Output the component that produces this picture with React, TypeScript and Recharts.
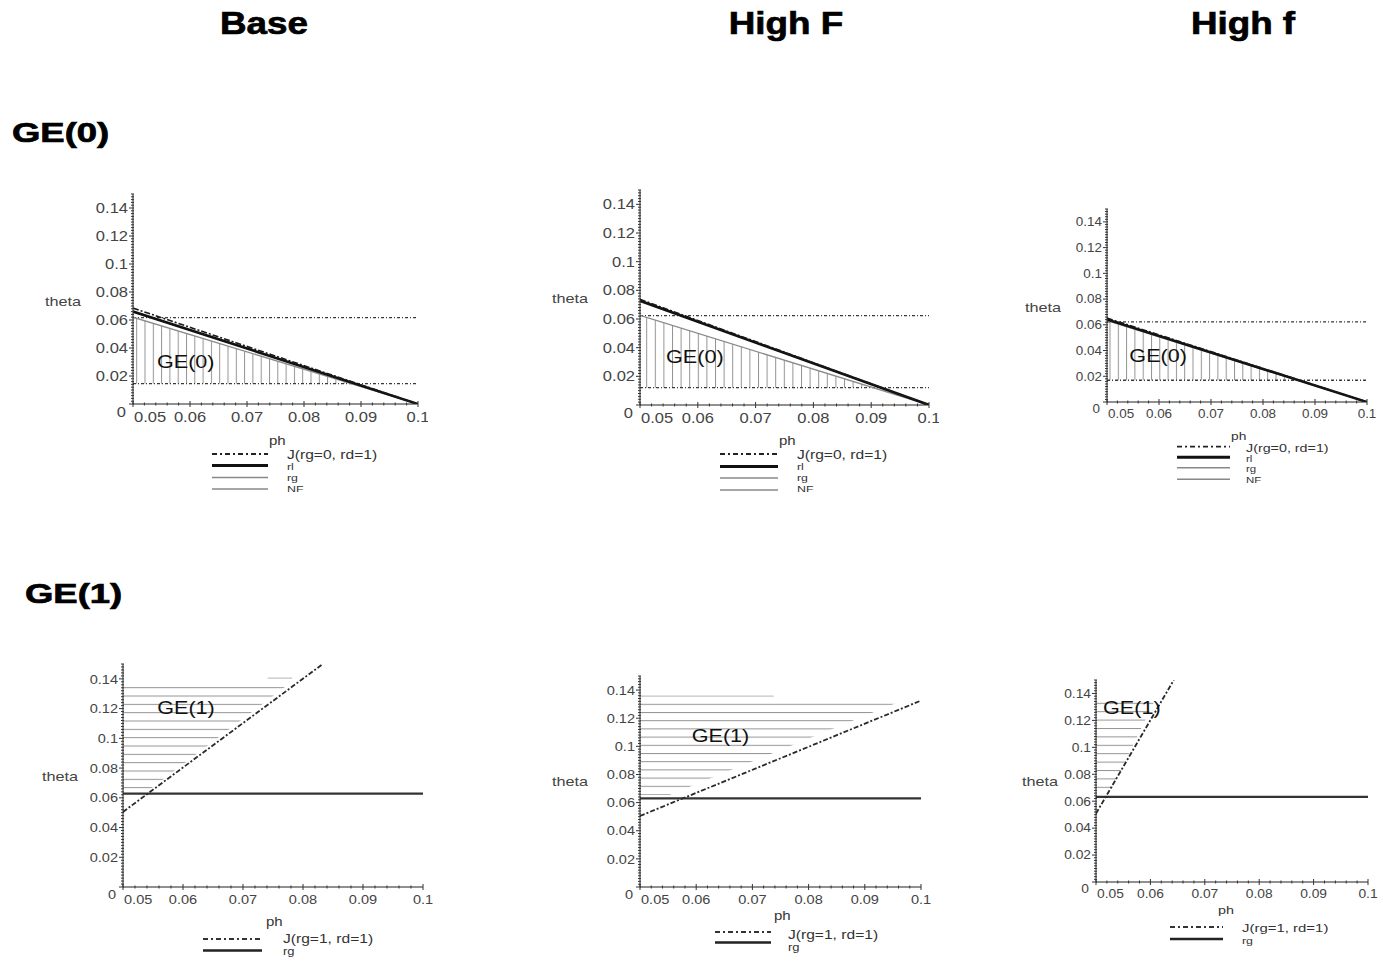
import React from "react";
import {
  ComposedChart,
  Line,
  Area,
  XAxis,
  YAxis,
  ReferenceDot,
  Legend,
} from "recharts";

const FONT = "'Liberation Sans', Arial, Helvetica, sans-serif";

// ---------------------------------------------------------------------------
// Tick labels and titles
// ---------------------------------------------------------------------------

const xMajor = [0.05, 0.06, 0.07, 0.08, 0.09, 0.1];
const yMajor = [0, 0.02, 0.04, 0.06, 0.08, 0.1, 0.12, 0.14];
const xTicks = Array.from({ length: 26 }, (_, i) => (50 + 2 * i) / 1000);
const yTicks = Array.from({ length: 76 }, (_, i) => (2 * i) / 1000);

const colTitles = ["Base", "High F", "High f"];
const rowTitles = ["GE(0)", "GE(1)"];
const ge0Legend = ["J(rg=0, rd=1)", "rl", "rg", "NF"];
const ge1Legend = ["J(rg=1, rd=1)", "rg"];

type Pt = { x: number; y: number };
type RangePt = { x: number; y: [number, number] };

// ---------------------------------------------------------------------------
// GE(0) row
// ---------------------------------------------------------------------------

const base0J: Pt[] = [{ x: 0.05, y: 0.0685 }, { x: 0.1, y: 0 }];
const base0Rl: Pt[] = [{ x: 0.05, y: 0.066 }, { x: 0.1, y: 0 }];
const base0Rg: Pt[] = [{ x: 0.05, y: 0.062 }, { x: 0.1, y: 0 }];
const base0Top: Pt[] = [{ x: 0.05, y: 0.0617 }, { x: 0.1, y: 0.0617 }];
const base0Bot: Pt[] = [{ x: 0.05, y: 0.0145 }, { x: 0.1, y: 0.0145 }];
const base0Hatch: RangePt[] = [
  { x: 0.05, y: [0.0145, 0.062] },
  { x: 0.0883, y: [0.0145, 0.0145] },
];

const highF0J: Pt[] = [{ x: 0.05, y: 0.0737 }, { x: 0.1, y: 0 }];
const highF0Rl: Pt[] = [{ x: 0.05, y: 0.0727 }, { x: 0.1, y: 0 }];
const highF0Rg: Pt[] = [{ x: 0.05, y: 0.0625 }, { x: 0.1, y: 0 }];
const highF0Top: Pt[] = [{ x: 0.05, y: 0.0623 }, { x: 0.1, y: 0.0623 }];
const highF0Bot: Pt[] = [{ x: 0.05, y: 0.0121 }, { x: 0.1, y: 0.0121 }];
const highF0Hatch: RangePt[] = [
  { x: 0.05, y: [0.0121, 0.0625] },
  { x: 0.0903, y: [0.0121, 0.0121] },
];

const highf0J: Pt[] = [{ x: 0.05, y: 0.0652 }, { x: 0.1, y: 0 }];
const highf0Rl: Pt[] = [{ x: 0.05, y: 0.0642 }, { x: 0.1, y: 0 }];
const highf0Rg: Pt[] = [{ x: 0.05, y: 0.0632 }, { x: 0.1, y: 0 }];
const highf0Top: Pt[] = [{ x: 0.05, y: 0.0622 }, { x: 0.1, y: 0.0622 }];
const highf0Bot: Pt[] = [{ x: 0.05, y: 0.0169 }, { x: 0.1, y: 0.0169 }];
const highf0Hatch: RangePt[] = [
  { x: 0.05, y: [0.0169, 0.0632] },
  { x: 0.0866, y: [0.0169, 0.0169] },
];

// ---------------------------------------------------------------------------
// GE(1) row
// ---------------------------------------------------------------------------

const base1J: Pt[] = [{ x: 0.05, y: 0.0505 }, { x: 0.0833, y: 0.15 }];
const base1Rg: Pt[] = [{ x: 0.05, y: 0.0628 }, { x: 0.1, y: 0.0628 }];
const base1Stray: Pt[] = [{ x: 0.0741, y: 0.1405 }, { x: 0.0782, y: 0.1405 }];
const base1Hatch: RangePt[] = [
  { x: 0.05, y: [0.0645, 0.1355] },
  { x: 0.0541, y: [0.0645, 0.1355] },
  { x: 0.0773, y: [0.1355, 0.1355] },
];

const highF1J: Pt[] = [{ x: 0.05, y: 0.0505 }, { x: 0.1, y: 0.1325 }];
const highF1Rg: Pt[] = [{ x: 0.05, y: 0.063 }, { x: 0.1, y: 0.063 }];
const highF1Stray: Pt[] = [{ x: 0.05, y: 0.1357 }, { x: 0.0738, y: 0.1357 }];
const highF1Hatch: RangePt[] = [
  { x: 0.05, y: [0.0655, 0.131] },
  { x: 0.0553, y: [0.0655, 0.131] },
  { x: 0.0957, y: [0.131, 0.131] },
];

const highf1J: Pt[] = [{ x: 0.05, y: 0.0508 }, { x: 0.0643, y: 0.15 }];
const highf1Rg: Pt[] = [{ x: 0.05, y: 0.0632 }, { x: 0.1, y: 0.0632 }];
const highf1Hatch: RangePt[] = [
  { x: 0.05, y: [0.0655, 0.134] },
  { x: 0.0525, y: [0.0655, 0.134] },
  { x: 0.0607, y: [0.134, 0.134] },
];

// ---------------------------------------------------------------------------
// Styles
// ---------------------------------------------------------------------------

interface LineStyle {
  stroke: string;
  width: number;
  dash?: string;
}

const J_STYLE: LineStyle = { stroke: "#1a1a1a", width: 1.6, dash: "6 2 2 2" };
const RL_STYLE: LineStyle = { stroke: "#111", width: 2.6 };
const GRAY_STYLE: LineStyle = { stroke: "#8a8a8a", width: 1.3 };
const DOT_STYLE: LineStyle = { stroke: "#3a3a3a", width: 1.3, dash: "3 2 1 2" };
const RG1_STYLE: LineStyle = { stroke: "#333", width: 2.4 };
const J1_STYLE: LineStyle = { stroke: "#2a2a2a", width: 1.8, dash: "5 2 2 2" };
const STRAY_STYLE: LineStyle = { stroke: "#b5b5b5", width: 1 };

const LEG0_STYLES: LineStyle[] = [
  { stroke: "#222", width: 1.8, dash: "5 3 2 3" },
  { stroke: "#111", width: 3 },
  { stroke: "#888", width: 1.5 },
  { stroke: "#888", width: 1.5 },
];
const LEG1_STYLES: LineStyle[] = [
  { stroke: "#333", width: 1.8, dash: "5 3 2 3" },
  { stroke: "#222", width: 2.6 },
];

// ---------------------------------------------------------------------------
// Panel definitions
// ---------------------------------------------------------------------------

interface LegendDef {
  x0: number;
  x1: number;
  rows: number[];
  ph: [number, number];
  textX: number;
  textYs: number[];
  fs: number;
  subFs: number;
  labels: string[];
  styles: LineStyle[];
}

interface PanelDef {
  id: string;
  plot: { l: number; t: number; w: number; h: number };
  tickFs: number;
  tickSx: number;
  series: { data: Pt[]; style: LineStyle }[];
  hatch: RangePt[];
  hatchDir: "v" | "h";
  hatchGap: number;
  hatchPhase: number;
  label: string;
  labelAt: Pt;
  theta: [number, number];
  legend: LegendDef;
}

const panels: PanelDef[] = [
  {
    id: "p1",
    plot: { l: 133, t: 194, w: 285, h: 210 },
    tickFs: 14,
    tickSx: 1.18,
    series: [
      { data: base0Top, style: DOT_STYLE },
      { data: base0Bot, style: DOT_STYLE },
      { data: base0Rg, style: GRAY_STYLE },
      { data: base0Rl, style: RL_STYLE },
      { data: base0J, style: J_STYLE },
    ],
    hatch: base0Hatch,
    hatchDir: "v",
    hatchGap: 8.3,
    hatchPhase: 136.7,
    label: "GE(0)",
    labelAt: { x: 0.0542, y: 0.0304 },
    theta: [63, 306],
    legend: {
      x0: 212, x1: 268, rows: [454, 465.5, 477.5, 489], ph: [269, 445],
      textX: 287, textYs: [459, 470, 481, 492], fs: 12, subFs: 9.5,
      labels: ge0Legend, styles: LEG0_STYLES,
    },
  },
  {
    id: "p2",
    plot: { l: 640, t: 190, w: 289, h: 215 },
    tickFs: 14,
    tickSx: 1.18,
    series: [
      { data: highF0Top, style: DOT_STYLE },
      { data: highF0Bot, style: DOT_STYLE },
      { data: highF0Rg, style: GRAY_STYLE },
      { data: highF0Rl, style: RL_STYLE },
      { data: highF0J, style: J_STYLE },
    ],
    hatch: highF0Hatch,
    hatchDir: "v",
    hatchGap: 8.6,
    hatchPhase: 646.7,
    label: "GE(0)",
    labelAt: { x: 0.0545, y: 0.0338 },
    theta: [570, 303],
    legend: {
      x0: 720, x1: 778, rows: [454, 466.5, 478, 490], ph: [779, 445],
      textX: 797, textYs: [459, 470, 481, 492], fs: 12, subFs: 9.5,
      labels: ge0Legend, styles: LEG0_STYLES,
    },
  },
  {
    id: "p3",
    plot: { l: 1107, t: 209, w: 260, h: 193 },
    tickFs: 12,
    tickSx: 1.12,
    series: [
      { data: highf0Top, style: DOT_STYLE },
      { data: highf0Bot, style: DOT_STYLE },
      { data: highf0Rg, style: GRAY_STYLE },
      { data: highf0Rl, style: RL_STYLE },
      { data: highf0J, style: J_STYLE },
    ],
    hatch: highf0Hatch,
    hatchDir: "v",
    hatchGap: 8.3,
    hatchPhase: 1110,
    label: "GE(0)",
    labelAt: { x: 0.0543, y: 0.0365 },
    theta: [1043, 312],
    legend: {
      x0: 1177, x1: 1230, rows: [446.7, 457.3, 467.7, 479.3], ph: [1231, 440],
      textX: 1246, textYs: [452, 462, 472, 482.5], fs: 11, subFs: 8.8,
      labels: ge0Legend, styles: LEG0_STYLES,
    },
  },
  {
    id: "p4",
    plot: { l: 123, t: 664, w: 300, h: 223 },
    tickFs: 13,
    tickSx: 1.12,
    series: [
      { data: base1Stray, style: STRAY_STYLE },
      { data: base1Rg, style: RG1_STYLE },
      { data: base1J, style: J1_STYLE },
    ],
    hatch: base1Hatch,
    hatchDir: "h",
    hatchGap: 8.33,
    hatchPhase: 687.7,
    label: "GE(1)",
    labelAt: { x: 0.0557, y: 0.1205 },
    theta: [60, 781],
    legend: {
      x0: 203, x1: 262, rows: [939, 950.5], ph: [266, 926],
      textX: 283, textYs: [942.5, 954.5], fs: 12, subFs: 10,
      labels: ge1Legend, styles: LEG1_STYLES,
    },
  },
  {
    id: "p5",
    plot: { l: 640, t: 676, w: 281, h: 211 },
    tickFs: 13,
    tickSx: 1.12,
    series: [
      { data: highF1Stray, style: STRAY_STYLE },
      { data: highF1Rg, style: RG1_STYLE },
      { data: highF1J, style: J1_STYLE },
    ],
    hatch: highF1Hatch,
    hatchDir: "h",
    hatchGap: 8.2,
    hatchPhase: 704.3,
    label: "GE(1)",
    labelAt: { x: 0.0592, y: 0.1077 },
    theta: [570, 786],
    legend: {
      x0: 715, x1: 771, rows: [932, 942.5], ph: [774, 920],
      textX: 788, textYs: [938.5, 950.5], fs: 12, subFs: 10,
      labels: ge1Legend, styles: LEG1_STYLES,
    },
  },
  {
    id: "p6",
    plot: { l: 1096, t: 680, w: 272, h: 202 },
    tickFs: 12,
    tickSx: 1.15,
    series: [
      { data: highf1Rg, style: RG1_STYLE },
      { data: highf1J, style: J1_STYLE },
    ],
    hatch: highf1Hatch,
    hatchDir: "h",
    hatchGap: 8.4,
    hatchPhase: 711.7,
    label: "GE(1)",
    labelAt: { x: 0.0513, y: 0.1295 },
    theta: [1040, 786],
    legend: {
      x0: 1170, x1: 1223, rows: [927, 939], ph: [1218, 914],
      textX: 1242, textYs: [932, 943.5], fs: 11.5, subFs: 9.5,
      labels: ge1Legend, styles: LEG1_STYLES,
    },
  },
];

// chart box around each plot area
const M = { top: 10, left: 70, right: 10, bottom: 80 };
const Y_W = 40;
const X_H = 30;

function boxOf(p: PanelDef) {
  return {
    left: p.plot.l - M.left - Y_W,
    top: p.plot.t - M.top,
    width: p.plot.w + M.left + Y_W + M.right,
    height: p.plot.h + M.top + X_H + M.bottom,
  };
}

// ---------------------------------------------------------------------------
// Ticks
// ---------------------------------------------------------------------------

function matchMajor(list: number[], v: number) {
  return list.find((m) => Math.abs(m - v) < 1e-6);
}

const makeXTick = (fs: number, sx: number) => (props: any) => {
  const { x, y, payload } = props;
  const major = matchMajor(xMajor, payload.value);
  const isMajor = major !== undefined;
  const first = major === xMajor[0];
  return (
    <g>
      <line x1={x} x2={x} y1={y - (isMajor ? 3 : 1.5)} y2={y + (isMajor ? 3 : 1.5)} stroke="#333" />
      {isMajor && (
        <text
          transform={`translate(${first ? x + 1 : x},${y + fs + 4}) scale(${sx},1)`}
          textAnchor={first ? "start" : "middle"}
          fontSize={fs}
          fill="#444"
          fontFamily={FONT}
        >
          {String(major)}
        </text>
      )}
    </g>
  );
};

const makeYTick = (fs: number, sx: number) => (props: any) => {
  const { x, y, payload } = props;
  const major = matchMajor(yMajor, payload.value);
  const isMajor = major !== undefined;
  const zero = major === 0;
  return (
    <g>
      <line x1={x - (isMajor ? 4 : 2)} x2={x + 1} y1={y} y2={y} stroke="#333" />
      {isMajor && (
        <text
          transform={`translate(${x - (zero ? 7 : 5)},${zero ? y + fs - 1 : y + fs * 0.36}) scale(${sx},1)`}
          textAnchor="end"
          fontSize={fs}
          fill="#444"
          fontFamily={FONT}
        >
          {String(major)}
        </text>
      )}
    </g>
  );
};

// ---------------------------------------------------------------------------
// Panel
// ---------------------------------------------------------------------------

function Panel({ p }: { p: PanelDef }) {
  const box = boxOf(p);
  const pid = `hatch-${p.id}`;
  const lg = p.legend;

  const renderLegend = () => (
    <svg
      width={box.width}
      height={box.height}
      style={{ position: "absolute", left: 0, top: 0, overflow: "visible" }}
    >
      <g transform={`translate(${-box.left},${-box.top})`}>
        {lg.labels.map((name, i) => {
          const s = lg.styles[i];
          return (
            <line
              key={`l-${name}`}
              x1={lg.x0}
              x2={lg.x1}
              y1={lg.rows[i]}
              y2={lg.rows[i]}
              stroke={s.stroke}
              strokeWidth={s.width}
              strokeDasharray={s.dash}
            />
          );
        })}
        <text
          transform={`translate(${lg.ph[0]},${lg.ph[1]}) scale(1.25,1)`}
          fontSize={lg.fs}
          fill="#333"
          fontFamily={FONT}
        >
          ph
        </text>
        {lg.labels.map((name, i) => (
          <text
            key={`t-${name}`}
            transform={`translate(${lg.textX},${lg.textYs[i]}) scale(1.3,1)`}
            fontSize={i === 0 ? lg.fs : lg.subFs}
            fill="#333"
            fontFamily={FONT}
          >
            {name}
          </text>
        ))}
      </g>
    </svg>
  );

  const phase = p.hatchDir === "v" ? p.hatchPhase - box.left : p.hatchPhase - box.top;

  return (
    <div style={{ position: "absolute", left: box.left, top: box.top }}>
      <ComposedChart width={box.width} height={box.height} margin={M}>
        <defs>
          {p.hatchDir === "v" ? (
            <pattern id={pid} patternUnits="userSpaceOnUse" x={phase - 0.5} y={0} width={p.hatchGap} height={10}>
              <line x1={0.5} x2={0.5} y1={0} y2={10} stroke="#939393" strokeWidth={1} />
            </pattern>
          ) : (
            <pattern id={pid} patternUnits="userSpaceOnUse" x={0} y={phase - 0.5} width={10} height={p.hatchGap}>
              <line x1={0} x2={10} y1={0.5} y2={0.5} stroke="#939393" strokeWidth={1} />
            </pattern>
          )}
        </defs>
        <XAxis
          type="number"
          dataKey="x"
          domain={[0.05, 0.1]}
          ticks={xTicks}
          interval={0}
          allowDataOverflow
          height={X_H}
          tickSize={0}
          tickMargin={0}
          tickLine={false}
          axisLine={{ stroke: "#222", strokeWidth: 1 }}
          tick={makeXTick(p.tickFs, p.tickSx)}
        />
        <YAxis
          type="number"
          domain={[0, 0.15]}
          ticks={yTicks}
          interval={0}
          allowDataOverflow
          width={Y_W}
          tickSize={0}
          tickMargin={0}
          tickLine={false}
          axisLine={{ stroke: "#222", strokeWidth: 1 }}
          tick={makeYTick(p.tickFs, p.tickSx)}
        />
        <Area
          data={p.hatch}
          dataKey="y"
          type="linear"
          stroke="none"
          fill={`url(#${pid})`}
          fillOpacity={1}
          isAnimationActive={false}
          legendType="none"
        />
        {p.series.map((s, i) => (
          <Line
            key={`${p.id}-s${i}`}
            data={s.data}
            dataKey="y"
            type="linear"
            dot={false}
            activeDot={false}
            stroke={s.style.stroke}
            strokeWidth={s.style.width}
            strokeDasharray={s.style.dash}
            isAnimationActive={false}
          />
        ))}
        <ReferenceDot
          x={p.labelAt.x}
          y={p.labelAt.y}
          r={1}
          shape={(sp: any) => (
            <text
              transform={`translate(${sp.cx},${sp.cy + 6.5}) scale(1.2,1)`}
              fontSize={18}
              fill="#111"
              fontFamily={FONT}
            >
              {p.label}
            </text>
          )}
        />
        <Legend
          layout="horizontal"
          verticalAlign="middle"
          align="center"
          content={renderLegend}
          wrapperStyle={{ left: 0, top: 0, width: box.width, height: box.height, pointerEvents: "none" }}
        />
      </ComposedChart>
    </div>
  );
}

// ---------------------------------------------------------------------------
// App
// ---------------------------------------------------------------------------

const colCenters = [264, 786, 1243];
const rowTitlePos: [number, number][] = [[12, 142], [25, 603]];

export default function App() {
  return (
    <div
      style={{
        position: "absolute",
        left: 0,
        top: 0,
        width: 1383,
        height: 963,
        overflow: "hidden",
        background: "#fff",
      }}
    >
      <svg width={1383} height={963} style={{ position: "absolute", left: 0, top: 0 }}>
        {colTitles.map((t, i) => (
          <text
            key={t}
            transform={`translate(${colCenters[i]},34) scale(1.15,1)`}
            textAnchor="middle"
            fontSize={32}
            fontWeight="bold"
            fill="#000"
            stroke="#000"
            strokeWidth={0.7}
            fontFamily={FONT}
          >
            {t}
          </text>
        ))}
        {rowTitles.map((t, i) => (
          <text
            key={t}
            transform={`translate(${rowTitlePos[i][0]},${rowTitlePos[i][1]}) scale(1.35,1)`}
            fontSize={27}
            fontWeight="bold"
            fill="#000"
            stroke="#000"
            strokeWidth={0.7}
            fontFamily={FONT}
          >
            {t}
          </text>
        ))}
        {panels.map((p) => (
          <text
            key={`theta-${p.id}`}
            transform={`translate(${p.theta[0]},${p.theta[1]}) scale(1.3,1)`}
            textAnchor="middle"
            fontSize={12.5}
            fill="#444"
            fontFamily={FONT}
          >
            theta
          </text>
        ))}
      </svg>
      {panels.map((p) => (
        <Panel key={p.id} p={p} />
      ))}
    </div>
  );
}
